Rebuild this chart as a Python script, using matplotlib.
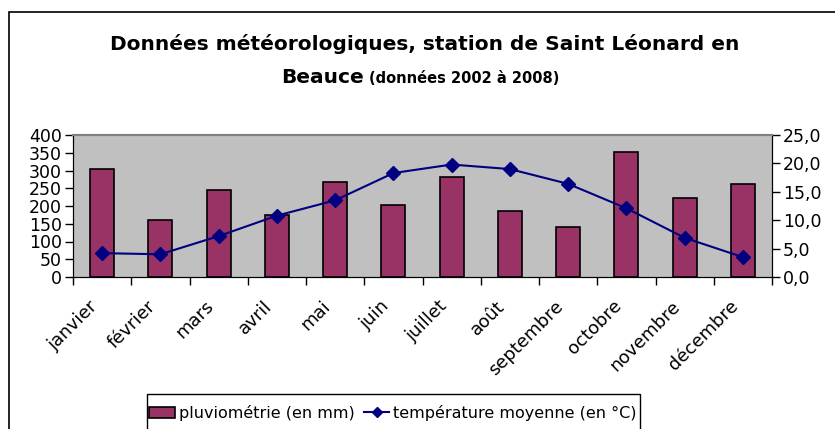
import matplotlib
matplotlib.use("Agg")
import matplotlib.pyplot as plt
from matplotlib.patches import Rectangle, Patch
from matplotlib.lines import Line2D
import numpy as np

months = ["janvier", "février", "mars", "avril", "mai", "juin", "juillet",
          "août", "septembre", "octobre", "novembre", "décembre"]
rain_mm = [304, 160, 244, 174, 267, 203, 283, 187, 140, 353, 223, 262]
temp_c = [4.2, 4.0, 7.2, 10.8, 13.5, 18.3, 19.8, 19.0, 16.4, 12.1, 6.9, 3.5]
left_ticks = [0, 50, 100, 150, 200, 250, 300, 350, 400]
right_ticks = [0, 5, 10, 15, 20, 25]

plt.rcParams['font.family'] = ['DejaVu Sans']

W, H = 835, 429
fig = plt.figure(figsize=(W / 100, H / 100), dpi=100)

def fx(px):
    return px / W

def fy(py):
    return 1 - py / H

ax = fig.add_axes([fx(73), fy(277), fx(772) - fx(73), fy(135) - fy(277)])
ax.set_facecolor("#C0C0C0")
x = np.arange(len(months))
ax.bar(x, rain_mm, width=0.41, color="#993366", edgecolor="black", linewidth=1.2, zorder=2)
ax.set_xlim(-0.5, len(months) - 0.5)
ax.set_ylim(0, 400)
ax.set_yticks(left_ticks)
ax.set_yticklabels([str(v) for v in left_ticks], fontsize=12.5)
ax.tick_params(axis='y', direction='out', length=6, width=1, pad=2)
ax.set_xticks(np.arange(-0.5, len(months), 1.0))
ax.set_xticklabels([])
ax.tick_params(axis='x', direction='out', length=6, width=1)
for i, m in enumerate(months):
    ax.annotate(m, xy=(i, 0), xycoords=('data', 'axes fraction'),
                xytext=(-14, -20), textcoords='offset pixels',
                rotation=45, ha='right', va='top', rotation_mode='anchor',
                fontsize=13)
ax.spines['top'].set_color("#808080")
ax.spines['top'].set_linewidth(1.5)
for s in ['left', 'bottom', 'right']:
    ax.spines[s].set_color("black")

ax2 = ax.twinx()
ax2.plot(x, temp_c, color="#000080", marker='D', markersize=7.5,
         linewidth=1.5, zorder=3)
ax2.set_ylim(0, 25)
ax2.set_yticks(right_ticks)
ax2.set_yticklabels([f"{v:.1f}".replace('.', ',') for v in right_ticks], fontsize=12.5)
ax2.tick_params(axis='y', direction='out', length=6, width=1, pad=2)
ax2.spines['top'].set_color("#808080")
ax2.spines['top'].set_linewidth(1.5)

# Title
fig.text(fx(425), fy(50), "Données météorologiques, station de Saint Léonard en",
         ha='center', va='baseline', fontsize=14.5, fontweight='bold')
fig.text(fx(364), fy(83), "Beauce", ha='right', va='baseline',
         fontsize=14.5, fontweight='bold')
fig.text(fx(369), fy(83), "(données 2002 à 2008)", ha='left', va='baseline',
         fontsize=10.5, fontweight='bold')

# Chart frame
fig.add_artist(Rectangle((fx(9), -0.2), 2, fy(12) + 0.2, transform=fig.transFigure,
                         fill=False, edgecolor='black', linewidth=1.2))
# Legend frame
fig.add_artist(Rectangle((fx(147), -0.2), fx(640) - fx(147), fy(394) + 0.2,
                         transform=fig.transFigure, fill=False,
                         edgecolor='black', linewidth=1.0))
handles = [Patch(facecolor="#993366", edgecolor="black", linewidth=1.2),
           Line2D([0], [0], color="#000080", marker='D', markersize=5, linewidth=1.5)]
fig.legend(handles, ["pluviométrie (en mm)", "température moyenne (en °C)"],
           loc='center', bbox_to_anchor=(fx(393), fy(413)), ncol=2, frameon=False,
           fontsize=11.5, handlelength=1.6, handletextpad=0.25, columnspacing=0.6,
           borderpad=0)

fig.savefig("out.png", dpi=100)
